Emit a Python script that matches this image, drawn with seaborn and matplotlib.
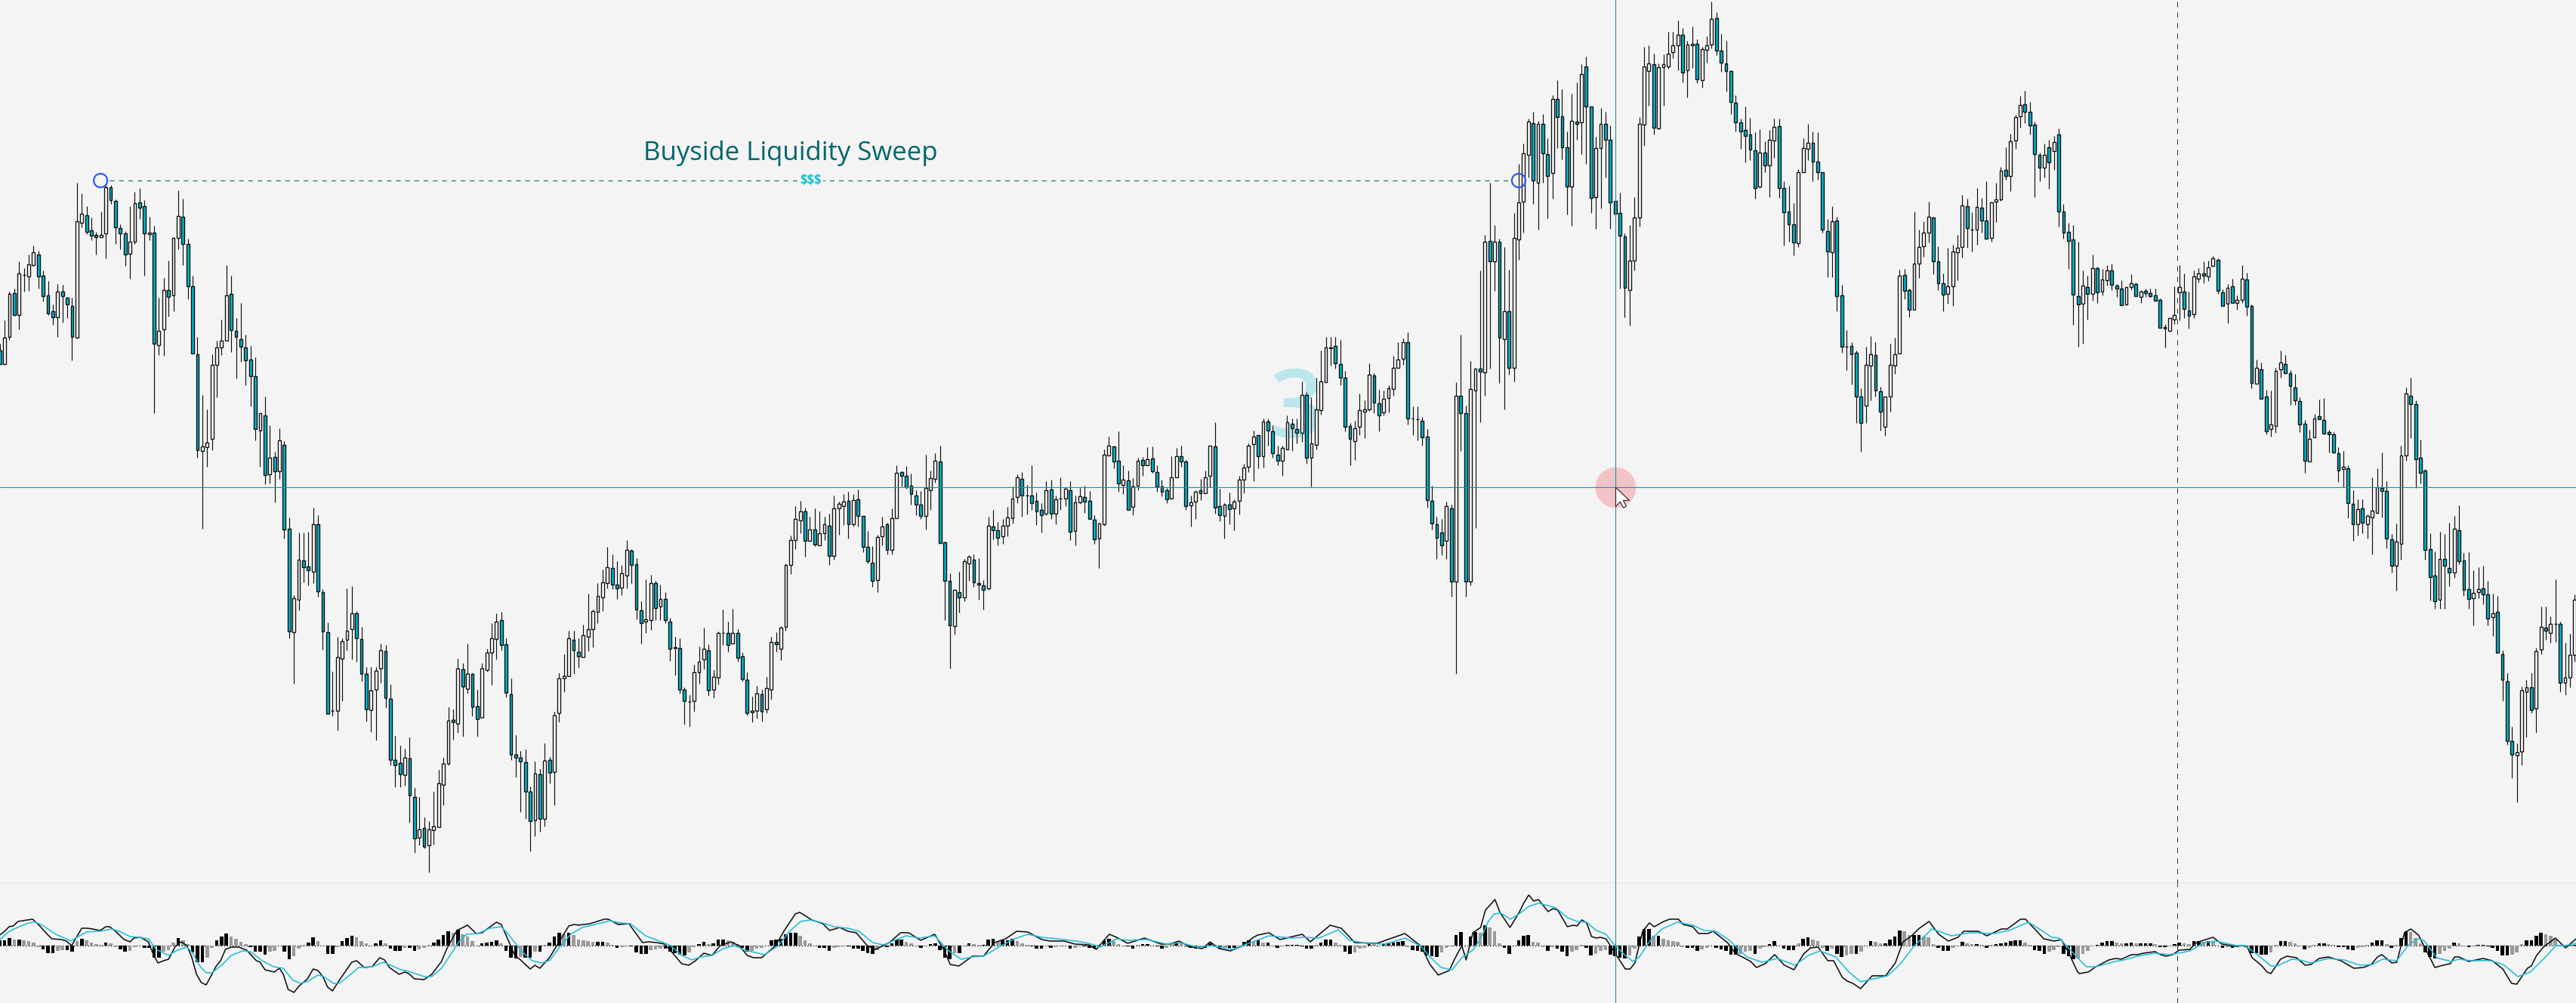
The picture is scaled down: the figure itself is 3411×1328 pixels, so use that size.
import numpy as np
import matplotlib
matplotlib.use("Agg")
import matplotlib.pyplot as plt
from matplotlib.path import Path
import seaborn as sns

wick_high = [
    455,424,386,382,346,355,337,325,332,358,372,403,376,377,394,394,242,256,273,288,
    307,280,245,245,264,297,306,273,254,249,265,287,299,394,368,345,314,252,263,316,
    365,446,523,542,469,451,423,351,365,421,401,443,458,473,547,525,563,598,567,584,
    685,788,705,705,704,672,682,780,824,889,843,845,779,776,809,830,883,883,883,852,
    854,906,974,987,991,976,1043,1055,1082,1087,1048,1019,1003,936,939,872,878,852,891,913,
    878,859,825,812,810,845,898,973,994,992,1041,1008,1018,984,1002,942,891,866,835,835,
    845,827,786,807,772,754,724,734,743,748,715,727,739,796,767,761,769,774,784,818,
    843,845,910,920,880,856,831,853,887,836,807,823,806,833,864,890,922,908,913,896,
    843,837,829,746,709,670,663,672,684,673,677,684,680,656,664,654,651,654,648,683,
    703,723,708,684,692,673,616,624,617,627,649,650,602,623,600,590,717,759,780,757,
    740,735,734,739,768,684,675,691,687,671,644,628,625,642,616,652,666,637,635,656,
    632,646,637,656,646,643,650,682,692,595,578,591,571,616,623,633,606,605,592,591,
    616,635,646,604,593,590,609,656,649,634,623,590,559,647,666,652,661,630,614,587,
    570,576,554,554,563,590,590,550,554,554,505,519,526,500,464,446,446,446,450,491,
    560,557,521,530,481,494,516,517,510,471,453,448,440,538,538,552,568,643,684,687,
    664,668,506,443,537,478,488,358,311,242,298,316,327,357,282,217,190,157,148,160,
    151,183,126,106,118,174,124,109,85,75,141,181,143,148,166,266,255,309,298,261,
    155,62,60,71,84,72,42,42,27,37,54,35,52,62,48,2,16,45,54,93,
    126,157,141,156,175,171,187,172,157,157,240,246,269,224,183,164,174,175,228,290,
    273,287,377,437,453,464,514,459,445,453,512,525,455,447,357,356,382,280,304,293,
    267,287,326,362,328,324,311,258,263,281,249,262,240,267,242,221,195,177,152,127,
    120,135,161,202,190,185,180,170,270,295,298,320,358,365,337,353,356,351,349,376,
    371,380,363,374,384,382,382,382,395,429,421,379,351,362,386,358,355,346,345,339,
    342,383,376,369,391,351,361,403,476,480,516,517,487,464,470,490,495,526,556,569,
    548,529,527,569,572,592,597,616,649,661,661,681,632,620,599,637,707,693,590,513,
    500,530,582,621,706,730,704,707,692,683,669,732,731,755,751,749,769,786,789,861,
    891,962,984,909,900,891,858,803,803,816,767,823,851,839,787,
]
body_top = [
    464,447,389,388,362,364,350,334,337,365,391,412,386,386,394,405,293,283,285,305,
    311,311,248,248,266,302,309,320,269,268,273,308,308,438,384,384,315,286,287,323,
    379,469,591,586,483,460,451,391,389,438,449,460,476,498,547,550,606,605,583,589,
    700,792,741,742,750,694,694,784,837,941,870,849,835,812,812,846,892,914,888,861,
    862,925,1006,1010,1003,1004,1055,1098,1096,1098,1094,1037,1011,954,953,885,886,892,892,935,
    885,864,845,823,821,853,919,999,1003,1009,1048,1024,1025,1007,1006,947,898,895,845,847,
    863,841,833,809,789,771,751,752,774,759,728,729,747,808,820,772,772,793,793,823,
    857,858,913,929,890,876,859,861,896,838,838,838,838,838,869,900,941,918,919,911,
    850,850,831,748,715,687,677,677,701,701,706,694,696,673,667,664,663,662,661,683,
    724,745,711,697,694,686,626,625,630,643,656,668,646,633,610,611,718,769,781,784,
    743,737,741,772,775,696,697,702,696,685,660,632,634,656,656,663,675,649,648,661,
    660,647,649,665,657,658,663,688,693,602,590,591,610,635,636,644,610,609,608,607,
    625,644,649,632,604,604,611,665,651,649,632,590,591,670,668,668,664,635,619,590,
    578,576,558,558,571,602,593,559,561,568,523,523,587,542,505,460,460,458,482,500,
    564,567,543,542,496,497,534,528,514,487,476,453,453,554,555,557,578,663,694,705,
    670,673,524,524,547,515,488,488,320,319,320,320,412,412,315,268,203,161,163,164,
    164,204,131,131,154,195,160,161,98,88,141,196,164,164,185,266,282,313,345,288,
    164,88,84,85,89,85,71,60,46,46,59,58,58,65,60,25,24,67,84,94,
    136,162,172,178,199,202,202,185,168,167,249,280,297,228,196,189,189,214,228,306,
    293,292,391,459,458,467,525,483,469,470,518,525,483,469,365,364,384,349,327,308,
    287,288,346,375,379,333,328,272,273,304,274,275,292,268,264,226,225,187,155,139,
    138,148,165,205,205,195,188,178,280,307,317,392,378,380,355,355,370,358,358,378,
    382,380,375,376,386,385,388,391,397,433,421,417,380,386,411,366,362,362,354,342,
    344,387,381,379,397,369,370,405,487,489,525,562,491,480,482,494,513,531,561,581,
    554,551,556,572,575,600,618,620,667,674,673,683,676,645,646,650,714,717,603,521,
    524,535,606,623,727,762,740,740,752,700,702,742,780,785,780,779,787,812,810,866,
    902,981,996,914,910,910,862,830,831,826,826,826,897,867,794,
]
body_bottom = [
    482,482,446,417,417,364,366,351,366,392,415,420,420,392,403,446,447,295,307,312,
    314,314,309,265,301,309,337,336,320,275,309,310,455,457,436,393,391,315,323,379,
    468,596,597,592,581,483,460,451,437,446,459,477,498,568,570,629,628,624,624,701,
    836,837,794,751,755,757,783,836,945,941,941,872,847,833,845,892,939,940,913,885,
    924,1006,1013,1025,1026,1053,1110,1109,1121,1119,1099,1095,1039,1011,956,958,909,912,936,952,
    950,887,864,846,854,917,999,1003,1008,1048,1087,1086,1084,1084,1023,1022,944,898,895,861,
    869,870,843,833,810,791,772,774,779,778,762,748,807,825,823,821,805,803,821,859,
    858,913,928,929,928,890,873,914,913,897,838,854,852,871,899,944,943,941,942,939,
    913,853,859,830,748,715,689,716,716,721,722,706,736,736,673,670,694,694,683,724,
    743,769,768,710,728,728,686,630,645,654,668,683,683,649,634,719,769,828,829,791,
    791,746,771,774,781,779,702,712,710,696,686,658,656,656,666,677,682,680,680,680,
    660,660,704,703,665,664,687,714,713,694,603,611,640,642,675,671,643,616,616,624,
    644,651,661,660,632,611,670,669,664,653,653,630,672,682,683,674,673,663,635,618,
    588,604,604,570,600,610,610,595,567,573,573,606,606,589,543,506,461,481,500,565,
    581,584,565,545,542,533,550,546,527,515,487,475,554,554,555,579,662,693,712,722,
    716,770,770,547,770,770,517,492,493,346,346,447,449,487,487,317,267,205,239,242,
    203,233,229,155,195,247,247,164,162,141,262,261,196,185,268,283,312,381,384,345,
    288,165,94,169,170,89,88,69,60,96,93,60,105,106,66,59,67,83,94,135,
    162,174,180,198,249,247,219,219,186,249,281,297,321,322,228,197,214,228,304,333,
    334,392,459,459,469,525,560,537,484,517,545,565,525,484,468,385,410,410,349,326,
    308,346,375,390,389,379,334,327,302,304,304,292,316,315,267,264,233,233,186,154,
    148,166,204,222,222,215,200,280,308,319,390,403,402,389,389,387,386,371,377,382,
    404,403,380,392,393,388,392,398,434,435,438,423,387,409,418,416,369,365,366,352,
    385,405,402,401,401,397,406,507,508,528,571,568,564,489,494,511,530,562,610,611,
    579,555,574,575,599,623,621,666,694,694,692,694,685,679,650,713,749,749,720,603,
    535,608,626,728,764,796,794,749,758,758,743,781,793,792,784,787,819,817,864,900,
    981,999,1000,995,916,940,938,860,835,838,826,904,904,897,867,
]
wick_low = [
    482,483,450,418,436,386,385,352,382,399,417,430,446,427,421,477,448,301,310,318,
    337,314,342,270,323,330,352,369,323,290,365,318,547,470,471,419,412,330,351,396,
    468,606,700,618,596,526,470,451,466,501,479,510,538,583,618,641,640,665,634,713,
    845,905,808,771,775,772,790,860,945,948,967,928,861,873,876,902,955,969,980,904,
    937,1013,1042,1042,1040,1089,1129,1119,1123,1155,1118,1095,1066,1013,979,970,975,918,948,975,
    950,889,907,873,861,923,1006,1029,1075,1084,1127,1107,1101,1094,1037,1066,956,916,895,892,
    884,870,862,857,825,809,779,780,793,788,779,772,820,852,838,834,821,821,825,875,
    894,918,959,962,942,905,886,921,924,906,854,863,852,876,902,947,956,951,955,944,
    926,863,874,835,760,727,706,737,716,723,722,715,748,741,708,695,713,697,697,731,
    746,777,784,722,734,734,686,644,647,668,682,687,701,675,639,719,821,885,840,811,
    796,769,777,794,807,781,714,722,720,710,693,666,684,681,675,695,705,682,687,694,
    675,670,715,722,667,679,687,720,752,696,603,620,651,654,675,682,649,630,616,626,
    651,657,666,660,632,618,675,697,687,662,653,645,680,690,713,694,702,681,653,625,
    637,620,619,590,606,616,630,595,597,587,585,614,644,595,549,506,484,488,510,571,
    616,609,576,580,544,547,571,550,546,524,487,483,562,576,583,590,672,701,740,735,
    740,790,892,597,790,775,699,559,524,488,385,507,542,496,505,344,308,235,270,304,
    242,289,263,196,211,284,299,185,204,217,282,303,276,235,303,283,382,420,431,358,
    300,193,140,178,171,140,91,77,93,109,129,90,110,116,83,64,73,95,121,151,
    174,197,215,212,263,249,228,261,209,262,325,320,338,327,228,212,240,238,308,367,
    367,412,467,490,509,560,598,560,530,525,570,577,545,495,468,396,420,410,368,340,
    321,363,384,412,402,405,371,341,328,333,324,308,316,320,294,266,238,253,197,169,
    163,178,261,240,235,250,225,300,316,356,430,459,455,423,398,401,391,378,384,393,
    404,404,384,392,401,393,394,399,434,460,439,429,424,421,435,421,374,375,372,353,
    389,405,428,401,410,401,418,514,508,528,575,578,573,500,495,536,536,572,626,611,
    579,555,575,599,600,638,645,686,716,709,706,713,734,680,685,726,758,782,741,610,
    580,646,640,741,795,806,806,806,776,765,747,789,806,828,792,800,828,842,865,928,
    986,1030,1062,1013,976,944,970,866,847,851,850,916,920,910,876,
]
# U = bullish (white body), D = bearish (teal body)
direction = (
    "DUUDUUUUDDDDUDDDUUDD" "DUUDDDDUUDDUDUUDUUDD" "DDUUUUUUDDDDDDUDUDUD"
    "DUUDDUDDDUUUUUDDDUUU" "DDDDUDDUDUUUUUDUDUDD" "UUUUDDDDDDDUDUDUUUUD"
    "DUUUUUUDDUUDDDUUDUDD" "DDDUUUUDUUUDUDDDUUDU" "UDUUUUUDUDUUDUUUDUDD"
    "DDUUDUUDDDDDUUUDDDUD" "UUDDDUDDUUUUDDDDDUDU" "UUDUUDDDUUUDDUDUUDUD"
    "DDDUUDDUUDUUDDUDUUUU" "UDUDDDUUDDUDUUUUDDDD" "DUUUUDDUUUUUDUDDDDDD"
    "UDUDDUUDUDUDUDUUUUDU" "DDUDDDUDUDDUUDDDDDUU" "UUUDUUUUUDUUDUUUDDDD"
    "DDDDDUDUUDDDDUUUDDDD" "UDDUDDDUUDDUUUUDDUUU" "UDDDUUUUDUUDDUUUDUUU"
    "DDDDUDUDDDDDUDUDUUDD" "DUUDUDDDDDUUUDDUUDUU" "DDUDUUDDUDDUUUDDDDDU"
    "UDDDDDUDDUDUUUDDDUUU" "DDDDDDUDDUDDDUUDDUDD" "DDUUUDUUDUUDUUU"
)

# MACD pane: histogram per candle, main and signal lines at their visible vertices
macd_hist = [
    7,7,10,8,8,7,6,4,-2,-5,-10,-10,-7,-6,-6,-8,6,9,7,4,
    2,1,4,3,-2,-5,-8,-7,-2,0,-3,-3,-16,-16,-8,-6,4,10,7,2,
    -9,-22,-22,-16,-3,7,12,16,12,9,5,2,-2,-8,-8,-12,-8,-7,0,-8,
    -18,-14,-4,1,4,11,6,0,-11,-11,-2,6,10,13,11,6,3,-1,3,7,
    3,-4,-7,-7,-3,-3,-7,-5,-3,1,4,8,14,19,17,21,15,12,6,-1,
    3,4,5,7,3,-7,-16,-17,-15,-16,-16,-8,-8,1,4,12,17,15,17,14,
    8,7,6,5,5,5,4,1,-3,-2,-1,-1,-9,-11,-11,-6,-5,-4,-4,-8,
    -10,-12,-13,-9,-2,2,5,2,3,8,8,7,5,2,-3,-8,-7,-4,-3,0,
    7,8,9,15,17,17,13,7,3,-1,-3,-3,-7,-3,-2,-1,-1,-4,-4,-7,
    -10,-11,-6,1,-2,3,8,8,5,3,-1,-3,-1,2,3,-6,-16,-18,-10,-10,
    -1,3,2,1,1,8,9,5,7,7,9,6,3,1,-1,-4,-4,-1,-3,-2,
    -1,0,-4,-3,-1,-1,-3,-4,1,7,9,6,2,-1,-1,-4,1,2,2,0,
    -1,-4,-3,2,4,3,-2,-3,-4,-2,-3,3,-2,-4,-3,-3,-3,-1,5,7,
    6,7,4,4,-1,-3,-1,1,1,1,-1,-4,-4,1,4,8,8,4,1,-8,
    -11,-9,-4,-3,3,2,-1,2,4,4,5,6,-2,-6,-7,-8,-13,-14,-15,-9,
    -3,-1,14,18,0,12,18,17,27,24,19,3,-3,-11,0,7,13,14,5,4,
    -2,-7,-2,-4,-8,-14,-8,-6,1,-3,-13,-11,-7,-6,-12,-14,-16,-17,-13,-4,
    12,22,22,13,13,9,7,6,5,-2,-3,-3,-7,-5,-3,0,-3,-5,-7,-12,
    -12,-11,-8,-7,-11,-4,-2,2,6,0,-4,-6,-6,3,9,11,8,6,-3,-7,
    -4,-11,-15,-13,-11,-11,-8,0,6,5,3,3,8,12,20,19,14,14,14,12,
    11,2,-3,-7,-7,-3,0,5,3,2,2,1,-3,1,2,3,4,6,7,7,
    4,1,-6,-7,-11,-8,-6,-2,-11,-14,-18,-17,-11,-7,-1,1,4,6,6,4,
    3,3,4,3,3,3,3,2,-2,-2,-1,2,4,3,2,6,6,5,6,5,
    0,-3,-2,-3,-2,0,-1,-10,-10,-12,-12,-9,1,6,6,5,3,-1,-5,-3,
    1,3,3,2,1,-2,-2,-5,-6,-3,-2,1,4,7,7,2,-3,1,10,19,
    18,10,3,-9,-15,-17,-11,-7,-4,4,3,-1,-2,-1,1,1,-1,-3,-7,-13,
    -13,-12,-9,2,7,7,13,17,15,13,8,1,1,1,1,
]
macd_idx = [
    0,1.2,1.9,2.8,3.8,4.8,6.8,8,10,10.8,12.8,13.8,14.9,16,17,18.1,19.2,20.8,22,22.8,
    24,25.8,27,27.8,29.2,30.8,31.8,32.8,34,35,36.4,37.6,38.8,39.8,40.8,41.8,42.8,44,44.8,45.8,
    46.8,48,49.6,51.2,53.2,54,55,56.9,58,58.8,59.8,61,62,63.8,65,66,67,68,69,70.4,
    73,74,75.6,77.2,78.8,79.8,80.8,82.8,84,84.8,86,88,89.6,91.6,92.8,94.8,97,98.8,100,103,
    104,105.6,106.8,108,110,111,112,114,116,118,119.2,120,122.4,125.4,
    126.2,128.2,130.5,131.6,133.3,134.5,136.2,137.9,139.7,141.4,142.9,144.3,146,147.7,149.4,151.7,153.5,155,156.3,158,
    160.9,162.7,165,165.9,168.4,170.7,172.1,174.2,175.9,177.6,179.9,181.6,184.5,186.8,188.5,191,193.9,196,197.1,198.9,
    201.7,204,206.3,208.6,210.9,213.2,216.1,217.8,220.7,223,225.9,227.4,230.1,231.6,233.9,237.4,240.8,242.5,244.6,246.6,
    249.4,251,252.9,255.2,257.5,260,260.9,263.2,265.5,270.1,271.8,275.9,278.2,281,285.6,291.4,294.8,296.6,298.3,300.6,
    301.7,303.2,304.1,
    305.5,307.1,308.1,310.1,311.1,313.2,315.1,316.1,317.1,318.1,319.1,321.1,322.1,323.1,325.1,326.3,327.1,328.1,329.1,330.1,
    331.1,331.9,333.1,335.1,337.1,338.1,339.1,340.7,342.1,343.1,345.1,346.3,348.1,349.1,351.1,352.3,354.3,355.3,358.3,359.9,
    363.1,364.3,366.1,368.1,370.1,372.1,374.1,375.5,377.1,379.1,380.3,382.1,383.1,384.3,385.9,388.3,391.1,393.1,394.7,396.3,
    398.1,400.1,402.1,404.1,406.1,407.3,410.3,412.1,415.1,416.3,419.1,420.1,423.9,426.1,427.5,429.1,430.9,
    431.3,433.1,434.7,437.4,438.8,440,442.1,443.3,444.6,447,448.1,449.2,450.6,452,454.2,455.5,459,460.8,463.8,465.1,
    466.1,467.1,469,470.2,471,473,474.3,476.3,478.1,479.3,481,482.9,485.5,488.2,490.2,491.8,493.1,494,496.1,497.1,
    498.7,500,501.6,505,506.7,508.2,509.1,510,512,515,516.9,519.1,520.9,522,524.2,525,526.1,527.5,530,532.1,534.3,
]
macd_line = [
    14,20,25,26,32,33,35,28,14,9,8,6,0,12,23,23,22,20,25,25,
    19,8,5,10,11,5,-11,-23,-20,-18,-1,5,0,-15,-38,-49,-52,-38,-28,-20,
    -5,-2,-2,-6,-20,-22,-32,-35,-30,-38,-58,-62,-54,-44,-31,-33,-41,-55,-60,-46,
    -22,-20,-29,-28,-16,-19,-29,-38,-35,-37,-44,-45,-38,-21,-3,20,27,16,17,31,
    28,5,-13,-19,-31,-26,-30,-16,5,26,28,27,29,35,
    35,28,29,19,4,5,4,2,-11,-24,-26,-20,-10,-13,0,5,-1,-13,-16,-16,
    0,20,42,44,34,29,20,24,19,17,0,-5,4,17,17,7,15,-8,-25,-27,
    -14,-14,4,9,19,18,8,6,6,2,1,-5,15,11,3,10,2,2,6,-1,
    -4,5,-4,-7,-1,11,14,17,8,15,5,27,23,4,3,16,-1,-25,-39,-33,
    -18,0,-19,
    17,24,47,61,44,24,44,57,67,59,61,45,49,47,25,27,26,34,30,12,
    10,11,9,-11,-31,-31,-23,19,30,25,32,35,35,28,25,16,16,19,4,-10,
    -21,-29,-24,-12,-26,-32,-11,-3,-2,-20,-20,-42,-47,-50,-57,-40,-40,-23,5,12,
    23,32,15,6,11,19,19,13,22,22,35,35,9,6,8,-10,-35,
    -37,-35,-28,-19,-17,-18,-12,-12,-10,-8,-12,-14,-12,-6,-5,4,11,2,-1,0,
    -2,-16,-26,-35,-37,-18,-14,-16,-26,-25,-17,-15,-20,-30,-29,-25,-15,-12,-23,-22,
    17,22,14,-29,-26,-24,-15,-15,-21,-17,-20,-31,-50,-51,-30,-27,-13,-2,10,-3,9,
]
signal_idx = [
    0,2,4,6,7.4,8.8,11.6,14.8,16,18,20.8,23.2,24.8,27,28.8,30.8,32.4,35,36.8,38.8,
    39.8,41.6,42.8,44,46,48,50.4,52,54.4,56.8,58.8,60.8,62.4,64,66,67.2,69.2,70.4,72.8,74.4,
    77.2,79.6,83.2,84.8,88,89.6,91.6,93.6,95.2,96.8,99.2,101.6,104,105.6,108,110.4,112.4,114,116,118.4,
    120.8,125.4,
    126.4,128.7,130.8,133.9,136.8,139.1,141.4,143.5,145.4,147.7,150,152.3,154.6,158.6,161.5,163.8,166.1,168.1,170.7,173,
    175.9,178.2,181,183.3,185.6,187.9,190.8,193.9,196.6,199.4,201.7,204,206.9,210.4,213.2,216.1,220.7,224.2,226.4,228.2,
    231.6,233.9,237.9,242,244.8,248.3,251.2,255.8,258.6,263.2,267.8,270.4,273.6,277.6,279.9,283.4,287.4,291.4,294.8,296.6,
    298.9,301.2,303.2,
    305.5,307.1,308.7,309.9,311.3,313.3,315.1,317.1,319.1,321.1,322.7,325.1,327.1,329.1,331.1,333.1,335.1,337.1,338.7,339.9,
    342.3,344.7,347.9,351.1,353.5,355.9,358.7,362.3,365.5,368.7,372.3,375.1,377.5,380.7,383.5,385.9,387.9,391.5,393.9,397.1,
    400.7,404.7,408.7,413.5,416.7,420.7,423.5,425.5,427.1,430.9,
    432.7,434.7,438.7,440.6,443.3,447,449.9,451.9,454.2,457.2,459.5,463.8,465.7,468.4,471,472.3,475.3,477,479.3,482.9,
    486.2,489.5,492.1,494.1,497.1,499.4,501.4,502.7,505.4,508.3,510,512.6,516.6,519.2,522.2,524.8,527.8,530.1,532.1,534.3,
]
signal_line = [
    8,19,25,30,31,27,15,6,11,18,19,22,19,12,11,9,-5,-13,-6,-2,
    -8,-28,-36,-36,-26,-13,-7,-8,-20,-28,-30,-46,-50,-47,-39,-41,-50,-50,-38,-29,
    -28,-22,-32,-34,-41,-41,-30,-11,5,15,16,23,25,14,-6,-20,-23,-20,-3,15,
    24,31,
    33,30,29,13,6,0,-13,-19,-15,-13,-4,0,-6,-12,0,19,32,34,30,25,
    23,19,4,1,7,13,10,13,-6,-18,-15,-14,-3,9,15,11,8,5,2,-2,
    9,7,8,2,4,-2,0,-5,2,13,10,11,10,21,7,3,2,10,-1,-15,
    -29,-32,-16,
    -6,9,32,42,43,35,42,52,56,53,50,37,32,31,20,15,-1,-13,-21,-16,
    7,22,31,27,20,19,7,-15,-22,-17,-26,-13,-7,-15,-35,-48,-45,-40,-26,0,
    22,13,17,16,20,31,20,11,10,-16,
    -28,-28,-21,-19,-14,-10,-12,-10,-7,4,6,0,0,-13,-27,-27,-18,-19,-23,-17,
    -19,-26,-25,-18,-20,0,9,7,-16,-21,-18,-20,-20,-25,-41,-35,-16,0,0,3,
]

sweep_level = 239
sweep_start, sweep_end = 20.9, 315.0
crosshair_bar, crosshair_level = 335.0, 645
session_bar = 451.65

BG = "#F4F4F4"
TEAL = "#00B4CE"
LINE_TEAL = "#1496A6"

sns.set_theme(style="white", rc={"figure.facecolor": BG, "axes.facecolor": BG})
plt.rcParams["font.family"] = ["Open Sans", "DejaVu Sans"]

W, H = 3411, 1328
PANE_SPLIT = 1171
fig = plt.figure(figsize=(W / 100, H / 100), dpi=100)
ax = fig.add_axes([0, (H - PANE_SPLIT) / H, 1, PANE_SPLIT / H])
ax_macd = fig.add_axes([0, 0, 1, (H - PANE_SPLIT) / H])

x_range = (0.3 / 6.385, (W + 0.3) / 6.385)

# Price pane
idx = np.arange(len(wick_high))
wick_high = np.array(wick_high)
wick_low = np.array(wick_low)
body_top = np.array(body_top)
body_bottom = np.array(body_bottom)
fills = [("white" if d == "U" else TEAL) for d in direction]

ax.text(268.8, 547, "3", color="#BBE7EC", fontsize=90, fontweight="semibold", ha="center",
        va="center", zorder=1)

ax.vlines(idx, wick_high, wick_low, color="#111111", lw=0.85, zorder=2)
ax.bar(idx, body_bottom - body_top, bottom=body_top, width=0.6, color=fills,
       edgecolor="#111111", linewidth=1.0, zorder=3)

# Liquidity sweep markup
ax.plot([sweep_start + 1.8, sweep_end - 1.4], [sweep_level, sweep_level], color="#0F6367",
        lw=0.8, ls=(0, (5.5, 5.5)), zorder=4)
ax.scatter([sweep_start, sweep_end], [sweep_level, sweep_level], s=170, facecolors="none",
           edgecolors="#2F5BEA", linewidths=1.6, zorder=5)
ax.text(164.0, 203, "Buyside Liquidity Sweep", color="#00666B", fontsize=25,
        ha="center", va="center", zorder=5)
ax.text(168.1, 239, "$$$", color="#18BEDC", fontsize=12, fontweight="bold",
        ha="center", va="center", zorder=5,
        bbox=dict(facecolor=BG, edgecolor="none", pad=2))

# Crosshair, click highlight and cursor
ax.scatter([crosshair_bar], [crosshair_level], s=1500, color="#F4C3C7", linewidths=0, zorder=5)
ax.axhline(crosshair_level, color=LINE_TEAL, lw=0.8, zorder=6)
for a in (ax, ax_macd):
    a.axvline(crosshair_bar, color=LINE_TEAL, lw=0.8, zorder=6)
    a.axvline(session_bar, color="#333333", lw=0.72, ls=(0, (7, 7)), zorder=6)
cursor = Path([(0, 0), (0, -25), (6, -19), (10, -27), (14, -25), (10, -17), (18, -17), (0, 0)], closed=True)
ax.scatter([crosshair_bar + 0.05], [crosshair_level], marker=cursor, s=1500, color="white",
           edgecolors="#222222", linewidths=0.8, zorder=7)

ax.axhspan(1168, 1170, color="#EDEDED", lw=0, zorder=0)
ax.set_xlim(*x_range)
ax.set_ylim(PANE_SPLIT, 0)
ax.set_axis_off()

# MACD pane: black while the bar grows in size, grey while it shrinks
hist = np.array(macd_hist)
tone = ["#000000"] + ["#000000" if abs(b) >= abs(a) else "#9A9A9A" for a, b in zip(hist[:-1], hist[1:])]
ax_macd.axhline(0, color="black", lw=0.9, ls=(0, (1, 2)), zorder=1)
ax_macd.bar(idx, hist, width=0.72, color=tone, linewidth=0, zorder=2)
sns.lineplot(x=macd_idx, y=macd_line, color="#111111", lw=1.15, estimator=None, sort=False,
             errorbar=None, ax=ax_macd, zorder=3)
sns.lineplot(x=signal_idx, y=signal_line, color="#22BEDA", lw=1.15, estimator=None, sort=False,
             errorbar=None, ax=ax_macd, zorder=4)
ax_macd.set_xlim(*x_range)
ax_macd.set_ylim(1252 - H, 1252 - PANE_SPLIT)
ax_macd.set_axis_off()

fig.savefig("out.png", dpi=100)
